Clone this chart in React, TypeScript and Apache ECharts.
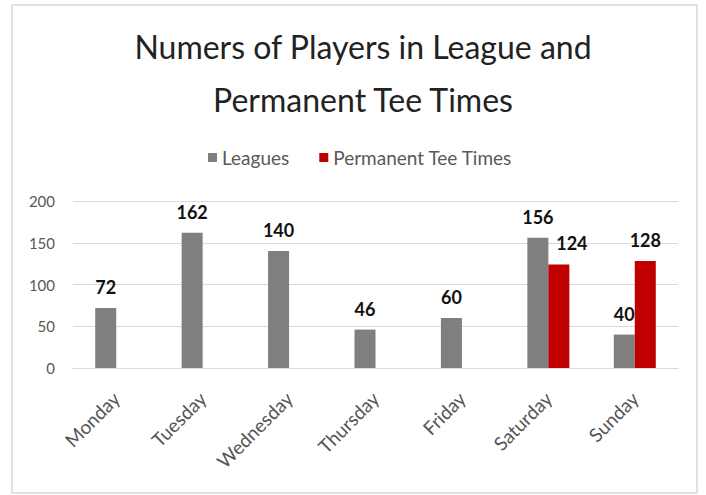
import React, { useEffect, useRef } from "react";
import * as echarts from "echarts";

const categories = ["Monday", "Tuesday", "Wednesday", "Thursday", "Friday", "Saturday", "Sunday"];
const leagues = [72, 162, 140, 46, 60, 156, 40];
const permanentTeeTimes: (number | null)[] = [null, null, null, null, null, 124, 128];
const seriesNames = ["Leagues", "Permanent Tee Times"];
const titleText = "Numers of Players in League and\nPermanent Tee Times";

const FONT = "Lato, 'Open Sans', sans-serif";

export default function App() {
  const ref = useRef<HTMLDivElement>(null);
  useEffect(() => {
    if (!ref.current) return;
    const chart = echarts.init(ref.current, null, { renderer: "svg" });
    const labelBase = {
      show: true,
      position: "top" as const,
      distance: 12,
      fontFamily: FONT,
      fontWeight: "bold" as const,
      fontSize: 18,
      color: "#111",
    };
    chart.setOption({
      animation: false,
      backgroundColor: "#fff",
      textStyle: { fontFamily: FONT },
      title: {
        text: titleText,
        left: 358,
        textAlign: "center",
        top: 15,
        textStyle: {
          fontFamily: FONT,
          fontWeight: "normal",
          fontSize: 32,
          lineHeight: 53,
          color: "#222",
        },
      },
      legend: {
        data: seriesNames,
        top: 143,
        left: 203,
        icon: "rect",
        itemWidth: 9,
        itemHeight: 9,
        itemGap: 30,
        textStyle: { fontFamily: FONT, fontSize: 19, color: "#595959" },
      },
      grid: { left: 73, right: 28, top: 201, bottom: 127, containLabel: false },
      xAxis: {
        type: "category",
        data: categories,
        axisTick: { show: false },
        axisLine: { show: true, lineStyle: { color: "#d9d9d9" } },
        axisLabel: {
          rotate: 45,
          interval: 0,
          margin: 27,
          fontFamily: FONT,
          fontSize: 19,
          color: "#555",
        },
      },
      yAxis: {
        type: "value",
        min: 0,
        max: 200,
        interval: 50,
        axisLine: { show: false },
        axisTick: { show: false },
        splitLine: { lineStyle: { color: "#d9d9d9" } },
        axisLabel: { margin: 18, fontFamily: FONT, fontSize: 15, color: "#595959" },
      },
      graphic: [
        {
          type: "rect",
          shape: { x: 12, y: 5, width: 685, height: 488 },
          style: { fill: "none", stroke: "#d9d9d9", lineWidth: 1.5 },
          silent: true,
        },
      ],
      series: [
        {
          name: seriesNames[0],
          type: "bar",
          data: leagues,
          barWidth: 21,
          barGap: "0%",
          itemStyle: { color: "#7f7f7f" },
          label: labelBase,
        },
        {
          name: seriesNames[1],
          type: "bar",
          data: permanentTeeTimes.map((v, i) =>
            i === 5 ? { value: v, label: { offset: [13, 0] } } : v
          ),
          barWidth: 21,
          itemStyle: { color: "#c00000" },
          label: labelBase,
        },
      ],
    });
    return () => chart.dispose();
  }, []);
  return (
    <div
      ref={ref}
      style={{ position: "fixed", left: 0, top: 0, width: 706, height: 495 }}
    />
  );
}
